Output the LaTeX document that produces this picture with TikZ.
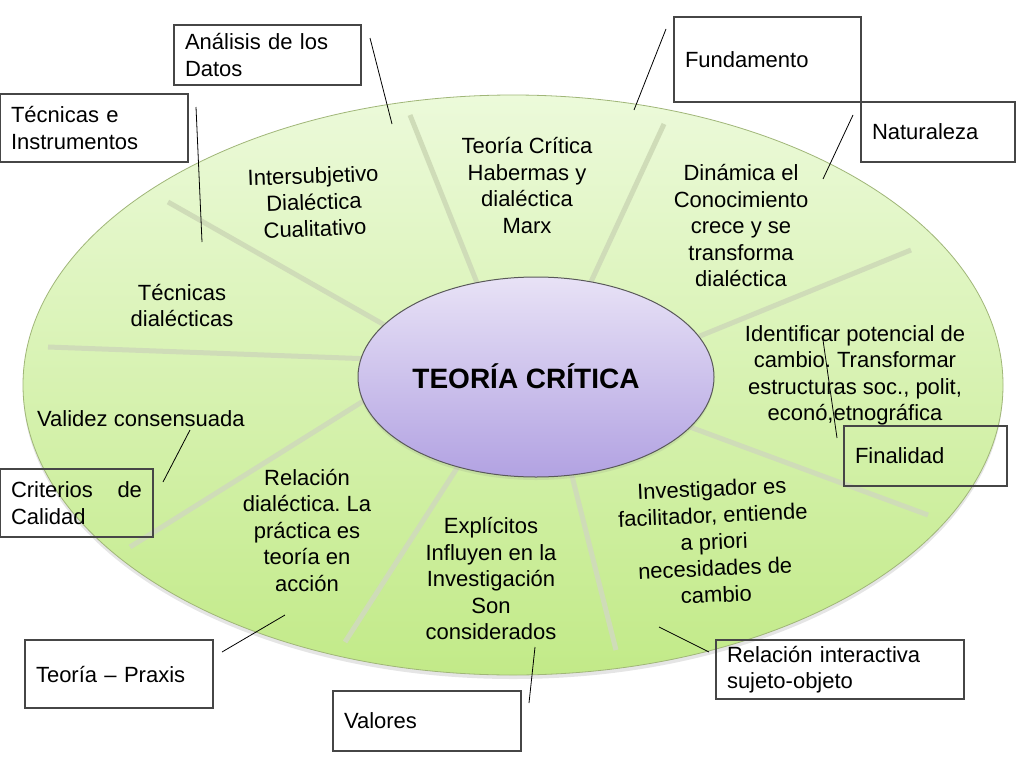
\documentclass[tikz,border=0pt]{standalone}
\usepackage{fontspec}
\setmainfont{Liberation Sans}
\usetikzlibrary{shapes.geometric,shadows}
\pgfdeclarelayer{back}
\pgfsetlayers{back,main}
\definecolor{verdeclaro}{RGB}{236,250,218}
\definecolor{verdefuerte}{RGB}{194,234,136}
\definecolor{verdeborde}{RGB}{160,182,120}
\definecolor{lilaclaro}{RGB}{232,226,246}
\definecolor{lilaoscuro}{RGB}{178,162,226}
\definecolor{rayocol}{RGB}{207,220,184}
\definecolor{bordecaja}{RGB}{70,70,70}
\frenchspacing

\begin{document}
\begin{tikzpicture}[x=1pt,y=-1pt,
  txt/.style={align=center,inner sep=0pt,font=\fontsize{22}{26.5}\selectfont},
  caja/.style={draw=bordecaja,line width=1.1pt,align=left,inner xsep=11pt,inner ysep=0pt,font=\fontsize{22}{26.5}\selectfont},
  radio/.style={draw=rayocol,line width=5pt},
  guia/.style={draw=black,line width=0.8pt}]
\useasboundingbox (0,0) rectangle (1024,768);

% centro
\node[ellipse,draw=black!65,line width=1pt,minimum width=356pt,minimum height=200pt,
  top color=lilaclaro,bottom color=lilaoscuro,drop shadow={opacity=0.15,shadow xshift=0pt,shadow yshift=-3pt}] (nucleo) at (536,377) {};
\node[inner sep=0pt,font=\fontsize{28}{30}\selectfont\bfseries] (titulo) at (526,376) {TEORÍA CRÍTICA};

% extremos de los radios
\coordinate (s1) at (168,202);
\coordinate (s2) at (48,347);
\coordinate (s3) at (410,115);
\coordinate (s4) at (664,124);
\coordinate (s5) at (911,250);
\coordinate (s6) at (928,515);
\coordinate (s7) at (616,650);
\coordinate (s8) at (345,642);
\coordinate (s9) at (130,547);

\begin{pgfonlayer}{back}
\fill[white] (0,0) rectangle (1024,768);
\node[ellipse,draw=verdeborde,line width=0.8pt,minimum width=980pt,minimum height=580pt,
  top color=verdeclaro,bottom color=verdefuerte,drop shadow={opacity=0.2,shadow xshift=0pt,shadow yshift=-4pt}] (fondo) at (513,385) {};
\draw[radio] (nucleo.161) -- (s1);
\draw[radio] (nucleo.174.5) -- (s2);
\draw[radio] (nucleo.122) -- (s3);
\draw[radio] (nucleo.60.6) -- (s4);
\draw[radio] (nucleo.14.8) -- (s5);
\draw[radio] (nucleo.-18.8) -- (s6);
\draw[radio] (nucleo.-70.4) -- (s7);
\draw[radio] (nucleo.-131.3) -- (s8);
\draw[radio] (nucleo.188.8) -- (s9);
\end{pgfonlayer}

% textos del anillo
\node[txt,rotate=2] (intsub) at (314,202) {Intersubjetivo\\Dialéctica\\Cualitativo};
\node[txt] (tecdial) at (182,305.5) {Técnicas\\dialécticas};
\node[txt] (teocrit) at (527,185.5) {Teoría Crítica\\Habermas y\\dialéctica\\Marx};
\node[txt] (dinam) at (741,226) {Dinámica el\\Conocimiento\\crece y se\\transforma\\dialéctica};
\node[txt] (ident) at (855,375.5) {Identificar potencial de\\cambio. Transformar\\estructuras soc., polit,\\econó,etnográfica};
\node[txt,anchor=west] (validez) at (37,419) {Validez consensuada};
\node[txt] (relac) at (307,530) {Relación\\dialéctica. La\\práctica es\\teoría en\\acción};
\node[txt] (explic) at (491,578.5) {Explícitos\\Influyen en la\\Investigación\\Son\\considerados};
\node[txt,rotate=2.5] (invest) at (714,541.5) {Investigador es\\facilitador, entiende\\a priori\\necesidades de\\cambio};

% cajas
\node[caja,text width=165pt,minimum height=60pt] (analisis) at (267.5,55) {Análisis de los\\Datos};
\node[caja,text width=166pt,minimum height=68pt] (tecinst) at (94,128) {Técnicas e\\Instrumentos};
\node[caja,text width=165pt,minimum height=85pt] (fundam) at (767.5,59.5) {Fundamento};
\node[caja,text width=132pt,minimum height=60pt] (natur) at (938,132) {Naturaleza};
\node[caja,text width=141pt,minimum height=60pt] (final) at (925.5,456) {Finalidad};
\node[caja,text width=131pt,minimum height=68pt] (criter) at (76.5,503) {Criterios\hfill de\\Calidad};
\node[caja,text width=166pt,minimum height=68pt] (praxis) at (119,674) {Teoría – Praxis};
\node[caja,text width=166pt,minimum height=60pt] (valores) at (427,721) {Valores};
\node[caja,text width=226pt,minimum height=59pt] (relint) at (840,669.5) {Relación interactiva\\sujeto-objeto};

% lineas guia
\coordinate (anaA) at (370,38);  \coordinate (anaB) at (392,124);
\coordinate (tecA) at (196,107); \coordinate (tecB) at (202,242);
\coordinate (funA) at (666,29);  \coordinate (funB) at (634,110);
\coordinate (natA) at (853,115); \coordinate (natB) at (823,179);
\coordinate (finA) at (823,340); \coordinate (finB) at (837,438);
\coordinate (criA) at (190,430); \coordinate (criB) at (163,482);
\coordinate (praA) at (285,615); \coordinate (praB) at (222,652);
\coordinate (valA) at (535,647); \coordinate (valB) at (529,703);
\coordinate (relA) at (659,627); \coordinate (relB) at (709,652);
\draw[guia] (anaA) -- (anaB);
\draw[guia] (tecA) -- (tecB);
\draw[guia] (funA) -- (funB);
\draw[guia] (natA) -- (natB);
\draw[guia] (finA) -- (finB);
\draw[guia] (criA) -- (criB);
\draw[guia] (praA) -- (praB);
\draw[guia] (valA) -- (valB);
\draw[guia] (relA) -- (relB);
\end{tikzpicture}
\end{document}
